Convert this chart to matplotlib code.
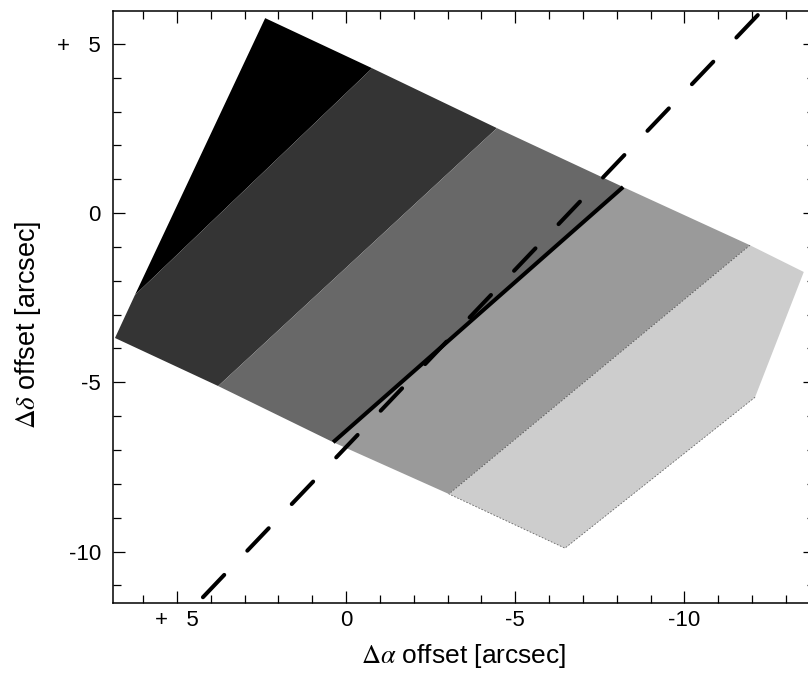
import numpy as np
import matplotlib.pyplot as plt
from matplotlib.patches import Polygon

plt.rcParams['font.family'] = ['Liberation Sans', 'DejaVu Sans']
plt.rcParams['mathtext.fontset'] = 'stix'

# strip polygons (RA offset, Dec offset) in arcsec
strip_x = [
    [2.39, -0.77, 6.24],
    [-0.77, -4.46, 3.78, 6.83, 6.24],
    [-4.46, -8.19, 0.38, 3.78],
    [-8.19, -11.94, -3.04, 0.38],
    [-11.94, -13.53, -12.09, -6.47, -3.04],
]
strip_y = [
    [5.76, 4.28, -2.42],
    [4.28, 2.51, -5.11, -3.69, -2.42],
    [2.51, 0.77, -6.77, -5.11],
    [0.77, -0.95, -8.30, -6.77],
    [-0.95, -1.74, -5.44, -9.90, -8.30],
]
strip_colors = ['#000000', '#343434', '#686868', '#9a9a9a', '#cdcdcd']

# slit axis (solid) and position angle line (dashed)
solid_x = [0.38, -8.19]
solid_y = [-6.77, 0.77]
dash_x = [-12.17, 4.23]
dash_y = [5.85, -11.35]

fig = plt.figure(figsize=(8.08, 6.76), dpi=100)
ax = fig.add_axes([0.1402, 0.1075, 0.8684, 0.8767])

for xs, ys, c in zip(strip_x, strip_y, strip_colors):
    ax.add_patch(Polygon(np.column_stack([xs, ys]), closed=True,
                         facecolor=c, edgecolor='none', zorder=1))

# faint edges on the lightest strip
ax.plot(strip_x[4][2:5], strip_y[4][2:5], color='#666666', lw=0.6,
        ls=(0, (2, 2)), zorder=2)
ax.plot([strip_x[3][1], strip_x[3][2]], [strip_y[3][1], strip_y[3][2]],
        color='#555555', lw=0.6, ls=(0, (2, 2)), zorder=2)

ax.plot(solid_x, solid_y, color='black', lw=2.9, solid_capstyle='butt', zorder=3)
ax.plot(dash_x, dash_y, color='black', lw=2.9, dash_capstyle='round',
        ls=(0, (7.7, 8.3)), zorder=3)

ax.set_xlim(6.88, -13.86)
ax.set_ylim(-11.53, 5.98)

ax.set_xticks([5, 0, -5, -10])
ax.set_xticklabels(['+   5', '0', '-5', '-10'])
ax.set_yticks([5, 0, -5, -10])
ax.set_yticklabels(['+   5', '0', '-5', '-10'])
ax.set_xticks(np.arange(6, -14, -1), minor=True)
ax.set_yticks(np.arange(-11, 6, 1), minor=True)

ax.tick_params(which='both', direction='in', top=True, right=True,
               width=0.9, labelsize=16, colors='black')
ax.tick_params(which='major', length=8.6)
ax.tick_params(which='minor', length=5.5)
ax.tick_params(axis='y', pad=9)
ax.tick_params(axis='x', pad=5)

for s in ax.spines.values():
    s.set_linewidth(1.1)

ax.set_xlabel(r'$\Delta\alpha$ offset [arcsec]', fontsize=19, labelpad=8)
ax.set_ylabel(r'$\Delta\delta$ offset [arcsec]', fontsize=19.5, labelpad=10)
ax.yaxis.label.set_y(0.47)

fig.savefig('out.png', dpi=100)
